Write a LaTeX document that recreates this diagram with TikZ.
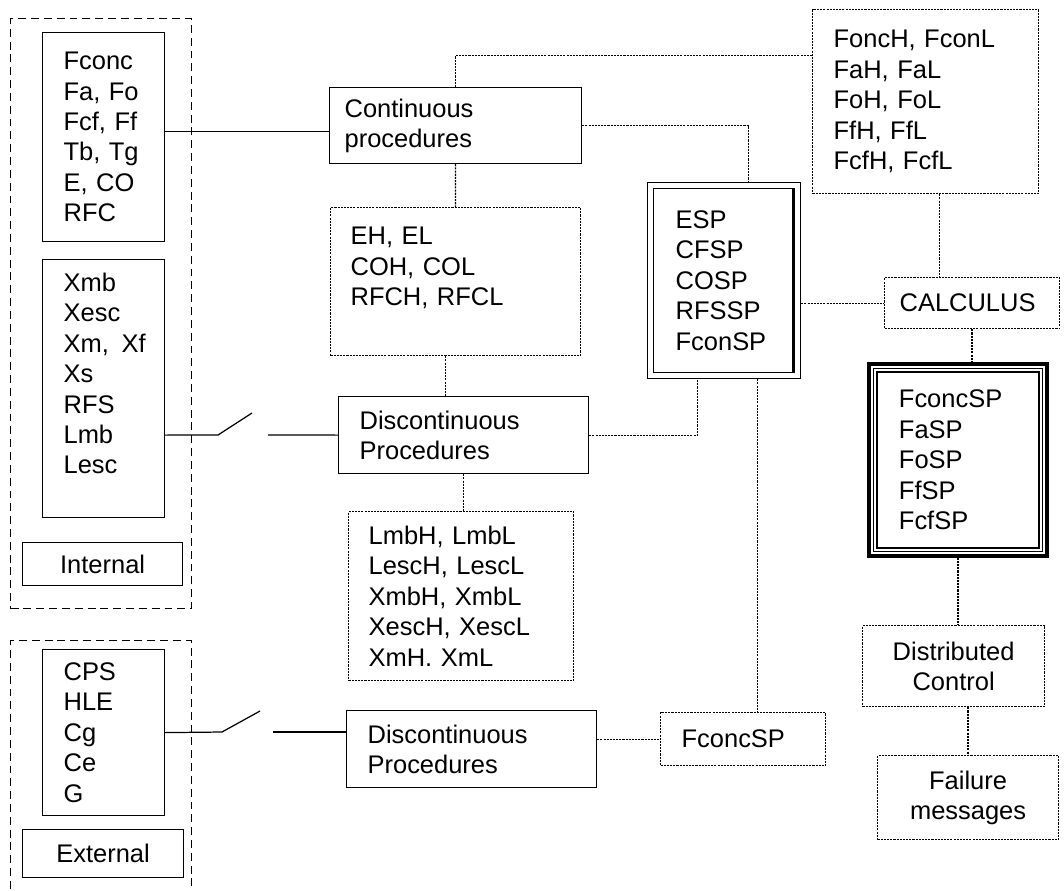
\documentclass[tikz,border=0pt]{standalone}
\usepackage{fontspec}
\setmainfont{Liberation Sans}

\begin{document}
\begin{tikzpicture}[
    x=0.02cm, y=-0.02cm,
    every node/.style={font=\fontsize{14.5pt}{17.3pt}\selectfont},
    box/.style={rectangle, draw=black, line width=0.7pt, anchor=north west, align=left, inner sep=0pt},
    dotbox/.style={box, dash pattern=on 1.2pt off 0.6pt},
    frame/.style={rectangle, draw=black, line width=0.75pt, anchor=north west, inner sep=0pt, dash pattern=on 4.5pt off 2.8pt},
    wire/.style={draw=black, line width=0.7pt},
    dotwire/.style={wire, dash pattern=on 1.2pt off 0.6pt},
    espbox/.style={box, path picture={
        \draw[line width=0.7pt] ([shift={(0.12cm,0.12cm)}]path picture bounding box.south west) rectangle ([shift={(-0.12cm,-0.12cm)}]path picture bounding box.north east);
        \draw[line width=1.8pt] ([shift={(-0.14cm,0.12cm)}]path picture bounding box.south east) -- ([shift={(-0.14cm,-0.12cm)}]path picture bounding box.north east);}},
    spbox/.style={box, line width=2.2pt, path picture={
        \draw[line width=0.4pt] ([shift={(0.09cm,0.09cm)}]path picture bounding box.south west) rectangle ([shift={(-0.09cm,-0.09cm)}]path picture bounding box.north east);
        \draw[line width=1.4pt] ([shift={(0.16cm,0.16cm)}]path picture bounding box.south west) rectangle ([shift={(-0.16cm,-0.16cm)}]path picture bounding box.north east);}}
]
\useasboundingbox (0,0) rectangle (1064,890);

% left side: internal and external variables
\node[frame, minimum width=3.62cm, minimum height=11.8cm] (intframe) at (10,18) {};
\node[frame, minimum width=3.62cm, minimum height=5.4cm] (extframe) at (10,640) {};
\node[box, minimum width=2.44cm, minimum height=4.18cm, text width=1.6cm] (vars1) at (42,32) {Fconc\\Fa, Fo\\Fcf, Ff\\Tb, Tg\\E, CO\\RFC};
\node[box, minimum width=2.44cm, minimum height=5.16cm, text width=1.6cm] (vars2) at (42,259) {Xmb\\Xesc\\\mbox{Xm,\, Xf}\\Xs\\RFS\\Lmb\\Lesc\\ \mbox{}};
\node[box, align=center, minimum width=3.2cm, minimum height=0.86cm] (internal) at (22,542) {Internal};
\node[box, minimum width=2.44cm, minimum height=3.32cm, text width=1.6cm] (extvars) at (42,649) {CPS\\HLE\\Cg\\Ce\\G};
\node[box, align=center, minimum width=3.22cm, minimum height=0.96cm] (external) at (22,829) {External};

% procedures
\node[box, minimum width=5.04cm, minimum height=1.52cm, text width=4.44cm] (cont) at (329,87) {Continuous\\procedures};
\node[dotbox, minimum width=5cm, minimum height=2.96cm, text width=4.2cm] (limits1) at (330,207) {EH, EL\\COH, COL\\RFCH, RFCL\\ \mbox{}};
\node[box, minimum width=5cm, minimum height=1.54cm, text width=4.16cm] (disc1) at (338,396) {Discontinuous\\Procedures};
\node[dotbox, minimum width=4.5cm, minimum height=3.38cm, text width=3.7cm] (limits2) at (348,511) {LmbH, LmbL\\LescH, LescL\\XmbH, XmbL\\XescH, XescL\\XmH. XmL};
\node[box, minimum width=5cm, minimum height=1.54cm, text width=4.16cm] (disc2) at (346,710) {Discontinuous\\Procedures};

% set points and control
\node[espbox, minimum width=3.06cm, minimum height=3.92cm, text width=1.94cm] (esp) at (647,182) {ESP\\CFSP\\COSP\\RFSSP\\FconSP};
\node[dotbox, minimum width=3.3cm, minimum height=1.06cm, text width=2.46cm] (fcsp) at (660,712) {FconcSP};
\node[dotbox, minimum width=4.52cm, minimum height=3.68cm, text width=3.68cm] (limitsF) at (812,9) {FoncH, FconL\\FaH, FaL\\FoH, FoL\\FfH, FfL\\FcfH, FcfL};
\node[dotbox, minimum width=3.5cm, minimum height=1.02cm, text width=2.9cm] (calc) at (884,277) {CALCULUS};
\node[spbox, minimum width=3.56cm, minimum height=3.84cm, text width=2.36cm] (sp) at (867,362) {FconcSP\\FaSP\\FoSP\\FfSP\\FcfSP};
\node[dotbox, align=center, minimum width=3.64cm, minimum height=1.62cm] (dc) at (862,625) {Distributed\\Control};
\node[dotbox, align=center, minimum width=3.62cm, minimum height=1.68cm] (fm) at (877,755) {Failure\\messages};

% switches
\coordinate (sw1a) at (218,435);
\coordinate (sw1b) at (252,413);
\coordinate (sw1c) at (268,435);
\coordinate (sw2a) at (222,732);
\coordinate (sw2b) at (260,711);
\coordinate (sw2c) at (273,732);
\coordinate (in1) at ([yshift=0.11cm]vars1.east);

\draw[wire] (in1) -- (in1 -| cont.west);
\draw[wire] (vars2.east |- disc1.west) -- (sw1a) -- (sw1b);
\draw[wire] (sw1c) -- (disc1.west);
\draw[wire] (extvars.east) -- (sw2a) -- (sw2b);
\draw[wire] (sw2c) -- (sw2c -| disc2.west);

\draw[dotwire] (cont.north) |- ([yshift=0.92cm]limitsF.west);
\draw[dotwire] (cont.east) -| ([xshift=0.49cm]esp.north);
\draw[dotwire] (cont.south) -- (limits1.north);
\draw[dotwire] ([xshift=-0.2cm]limits1.south) -- ([xshift=-0.2cm]limits1.south |- disc1.north);
\draw[dotwire] (disc1.east) -| ([xshift=-0.53cm]esp.south);
\draw[dotwire] (disc1.south) -- (disc1.south |- limits2.north);
\draw[dotwire] (fcsp.west -| disc2.east) -- (fcsp.west);
\draw[dotwire] ([xshift=0.67cm]esp.south) -- ([xshift=0.67cm]esp.south |- fcsp.north);
\draw[dotwire] (calc.west -| esp.east) -- (calc.west);
\draw[dotwire] ([xshift=0.28cm]limitsF.south) -- ([xshift=0.28cm]limitsF.south |- calc.north);
\draw[dotwire] (calc.south) -- (calc.south |- sp.north);
\draw[dotwire] (sp.south) -- (sp.south |- dc.north);
\draw[dotwire] (fm.north |- dc.south) -- (fm.north);
\end{tikzpicture}
\end{document}
